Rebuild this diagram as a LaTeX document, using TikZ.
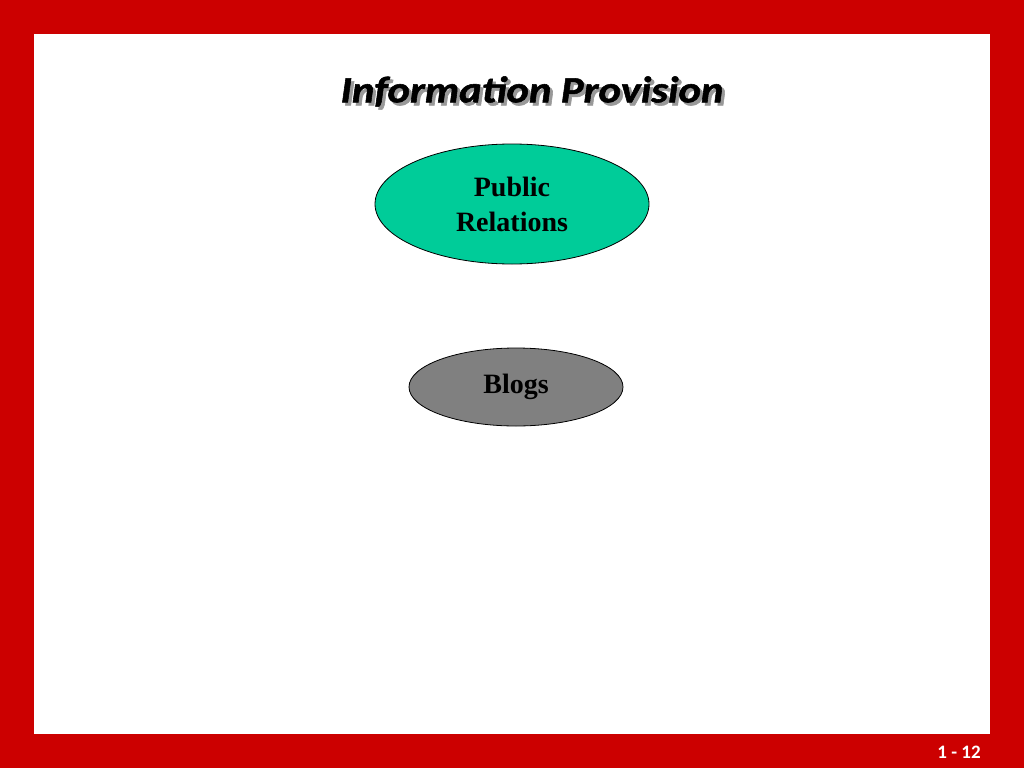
\documentclass[tikz,border=0pt]{standalone}
\usepackage{fontspec}
\setmainfont{Liberation Serif}
\newfontfamily\titlefont[FakeStretch=1.15,FakeBold=1.5]{Carlito}
\newfontfamily\pagefont{Carlito}
\usetikzlibrary{shapes.geometric}
\definecolor{framered}{HTML}{CC0000}
\definecolor{prgreen}{HTML}{00CC99}
\definecolor{bloggray}{HTML}{808080}
\newcommand{\shadowtext}[1]{\rlap{\hspace{3pt}\raisebox{-3pt}{\textcolor{black!40}{#1}}}#1}
\tikzset{
  oval/.style={ellipse, draw=black, line width=0.8pt, inner sep=0pt, font=\fontsize{28}{33}\selectfont\bfseries, align=center},
}
\begin{document}
\begin{tikzpicture}[x=1pt,y=-1pt]
\useasboundingbox (0,0) rectangle (1024,768);
\fill[framered] (0,0) rectangle (1024,768);
\fill[white] (34,34) rectangle (990,734);
\node (title) [font=\titlefont\fontsize{37}{40}\selectfont\bfseries\itshape] at (532,93) {\shadowtext{Information Provision}};
\node (pr) [oval, fill=prgreen, minimum width=274, minimum height=120] at (512,204) {\raisebox{2pt}{Public}\\Relations};
\node (blogs) [oval, fill=bloggray, minimum width=214, minimum height=78] at (516,387) {Blogs};
\node (pg) [text=white, font=\pagefont\fontsize{19}{22}\selectfont\bfseries] at (959,752) {1 - 12};
\end{tikzpicture}
\end{document}
